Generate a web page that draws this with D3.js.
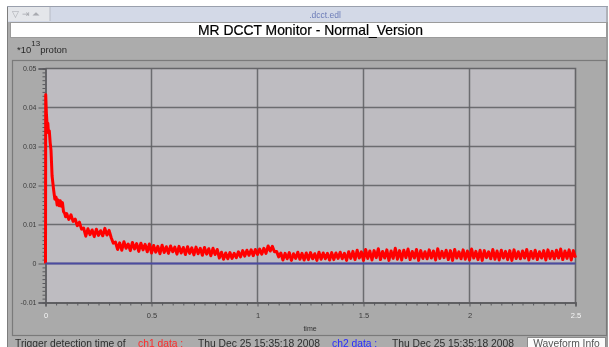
<!DOCTYPE html>
<html>
<head>
<meta charset="utf-8">
<script src="https://cdn.jsdelivr.net/npm/d3@7/dist/d3.min.js"></script>
<style>
  html, body { margin: 0; padding: 0; background: #ffffff; overflow: hidden; }
  svg { display: block; font-family: "Liberation Sans", Arial, Helvetica, sans-serif; }
</style>
</head>
<body>
<svg id="chart" width="609" height="347"></svg>
<script>
// ---- axis ticks ----
const xTicks = [0, 0.5, 1, 1.5, 2, 2.5];
const xTickLabels = ["0", "0.5", "1", "1.5", "2", "2.5"];
const yTicks = [-0.01, 0, 0.01, 0.02, 0.03, 0.04, 0.05];
const yTickLabels = ["-0.01", "0", "0.01", "0.02", "0.03", "0.04", "0.05"];

// ---- ch1 (red): injection edge, sampled finely ----
const ch1HeadTime = [0, 0.001, 0.004, 0.008, 0.011, 0.014, 0.018, 0.022, 0.026, 0.031, 0.038,
  0.044, 0.050, 0.055, 0.060, 0.065, 0.070, 0.075, 0.080, 0.085, 0.090, 0.095];
const ch1HeadValue = [0, 0.0433, 0.0387, 0.0352, 0.0360, 0.0335, 0.0340, 0.0310, 0.0290, 0.0225, 0.0190,
  0.0165, 0.0170, 0.0150, 0.0163, 0.0148, 0.0161, 0.0147, 0.0156, 0.0133, 0.0129, 0.0120];

// ---- ch1 (red): remainder of the waveform, one sample every 10 ms from 0.10 s ----
const ch1TailStart = 0.10;
const ch1TailStep = 0.01;
const ch1TailValue = [
  0.0128, 0.0113, 0.0125, 0.0108, 0.0114, 0.0097, 0.0106, 0.0088, 0.0091, 0.0070,
  0.0089, 0.0074, 0.0086, 0.0069, 0.0088, 0.0072, 0.0084, 0.0071, 0.0090, 0.0073,
  0.0085, 0.0066, 0.0052, 0.0055, 0.0036, 0.0053, 0.0034, 0.0056, 0.0039, 0.0050,
  0.0033, 0.0054, 0.0037, 0.0051, 0.0031, 0.0052, 0.0035, 0.0049, 0.0030, 0.0050,
  0.0027, 0.0046, 0.0029, 0.0044, 0.0025, 0.0047, 0.0028, 0.0043, 0.0026, 0.0045,
  0.0030, 0.0042, 0.0024, 0.0044, 0.0027, 0.0041, 0.0023, 0.0043, 0.0026, 0.0040,
  0.0022, 0.0042, 0.0025, 0.0039, 0.0021, 0.0041, 0.0024, 0.0038, 0.0020, 0.0039,
  0.0023, 0.0036, 0.0014, 0.0029, 0.0011, 0.0027, 0.0012, 0.0028, 0.0013, 0.0026,
  0.0015, 0.0030, 0.0017, 0.0033, 0.0019, 0.0034, 0.0021, 0.0035, 0.0020, 0.0036,
  0.0023, 0.0037, 0.0024, 0.0039, 0.0026, 0.0045, 0.0032, 0.0044, 0.0030, 0.0031,
  0.0017, 0.0027, 0.0009, 0.0026, 0.0012, 0.0028, 0.0008, 0.0025, 0.0013, 0.0029,
  0.0011, 0.0026, 0.0009, 0.0027, 0.0010, 0.0028, 0.0012, 0.0025, 0.0008, 0.0029,
  0.0011, 0.0027, 0.0012, 0.0026, 0.0009, 0.0028, 0.0010, 0.0027, 0.0013, 0.0029,
  0.0012, 0.0026, 0.0008, 0.0030, 0.0013, 0.0031, 0.0010, 0.0034, 0.0014, 0.0030,
  0.0008, 0.0036, 0.0013, 0.0032, 0.0009, 0.0033, 0.0015, 0.0038, 0.0010, 0.0031,
  0.0014, 0.0035, 0.0008, 0.0032, 0.0013, 0.0039, 0.0011, 0.0033, 0.0009, 0.0034,
  0.0015, 0.0037, 0.0010, 0.0031, 0.0014, 0.0036, 0.0008, 0.0033, 0.0013, 0.0030,
  0.0012, 0.0035, 0.0014, 0.0032, 0.0009, 0.0038, 0.0013, 0.0031, 0.0015, 0.0034,
  0.0010, 0.0033, 0.0008, 0.0036, 0.0014, 0.0030, 0.0012, 0.0035, 0.0011, 0.0032,
  0.0009, 0.0037, 0.0014, 0.0031, 0.0010, 0.0034, 0.0008, 0.0033, 0.0015, 0.0030,
  0.0012, 0.0036, 0.0011, 0.0032, 0.0009, 0.0034, 0.0014, 0.0031, 0.0010, 0.0033,
  0.0008, 0.0035, 0.0013, 0.0030, 0.0012, 0.0032, 0.0014, 0.0036, 0.0009, 0.0031,
  0.0013, 0.0034, 0.0010, 0.0030, 0.0014, 0.0033, 0.0009, 0.0035, 0.0013, 0.0031,
  0.0012, 0.0034, 0.0014, 0.0037, 0.0010, 0.0032, 0.0013, 0.0035, 0.0009, 0.0033,
  0.0015
];

// ---- ch2 (blue) ----
const ch2Time = [0, 2.5];
const ch2Value = [0, 0];

// ---- status line ----
const ch1Stamp = "Thu Dec 25 15:35:18 2008";
const ch2Stamp = "Thu Dec 25 15:35:18 2008";

const ch1 = ch1HeadTime.map((t, i) => ({ t, v: ch1HeadValue[i] }))
  .concat(ch1TailValue.map((v, i) => ({ t: ch1TailStart + i * ch1TailStep, v })));
const ch2 = ch2Time.map((t, i) => ({ t, v: ch2Value[i] }));

const svg = d3.select("#chart");

const defs = svg.append("defs");
defs.append("filter").attr("id", "soft")
  .attr("x", "-5%").attr("y", "-5%").attr("width", "110%").attr("height", "110%")
  .append("feGaussianBlur").attr("stdDeviation", 0.7);

const root = svg.append("g").attr("filter", "url(#soft)");

// ---- window chrome ----
root.append("rect").attr("x", 7).attr("y", 6).attr("width", 601).attr("height", 345).attr("fill", "#acacac");
root.append("rect").attr("x", 7).attr("y", 6).attr("width", 601).attr("height", 16).attr("fill", "#d3d9e7");
root.append("rect").attr("x", 8).attr("y", 7).attr("width", 42).attr("height", 14).attr("fill", "#e4e6ea");
root.append("line").attr("x1", 50).attr("x2", 50).attr("y1", 7).attr("y2", 21).attr("stroke", "#b8bcc6");
root.append("text").attr("x", 12).attr("y", 17).attr("font-size", 9).attr("fill", "#a8aab0").text("▽ ⇥ ⏶");
root.append("text").attr("x", 325).attr("y", 17.5).attr("text-anchor", "middle")
  .attr("font-size", 8.5).attr("fill", "#6c7cb8").text(".dcct.edl");
root.append("line").attr("x1", 7.5).attr("x2", 7.5).attr("y1", 6).attr("y2", 347).attr("stroke", "#7d7d7d");
root.append("line").attr("x1", 607).attr("x2", 607).attr("y1", 6).attr("y2", 347).attr("stroke", "#8a8a8a");
root.append("line").attr("x1", 7).attr("x2", 608).attr("y1", 6.5).attr("y2", 6.5).attr("stroke", "#9aa0ad");

// title box
root.append("rect").attr("x", 10.5).attr("y", 22.5).attr("width", 596).attr("height", 15)
  .attr("fill", "#fefefe").attr("stroke", "#9a9a9a");
root.append("text").attr("x", 310.5).attr("y", 34.5).attr("text-anchor", "middle")
  .attr("font-size", 13.9).attr("fill", "#000").attr("stroke", "#000").attr("stroke-width", 0.2)
  .text("MR DCCT Monitor - Normal_Version");

// unit label
const unit = root.append("text").attr("x", 17).attr("y", 52.5).attr("font-size", 9.5).attr("fill", "#2a2a2a");
unit.append("tspan").text("*10");
unit.append("tspan").attr("font-size", 8).attr("dy", -7).text("13");
unit.append("tspan").attr("dy", 7).text("proton");

// plot frame
root.append("rect").attr("x", 12.5).attr("y", 60.5).attr("width", 594).attr("height", 275)
  .attr("fill", "#aaaaaa").attr("stroke", "#7a7a7a").attr("stroke-width", 1.2);

// ---- scales ----
const plot = { left: 45.5, right: 575.5, top: 68.5, bottom: 302.5 };
const x = d3.scaleLinear().domain([0, 2.5]).range([plot.left, plot.right]);
const y = d3.scaleLinear().domain([-0.01, 0.05]).range([plot.bottom, plot.top]);

root.append("rect").attr("x", plot.left).attr("y", plot.top)
  .attr("width", plot.right - plot.left).attr("height", plot.bottom - plot.top)
  .attr("fill", "#bebcc1");

// grid
const grid = root.append("g").attr("stroke", "#5e5e62").attr("stroke-width", 1.5).attr("stroke-opacity", 0.85);
grid.selectAll(".gx").data(xTicks.slice(1, -1)).join("line")
  .attr("x1", d => x(d)).attr("x2", d => x(d)).attr("y1", plot.top).attr("y2", plot.bottom);
grid.selectAll(".gy").data(yTicks.slice(1, -1)).join("line")
  .attr("x1", plot.left).attr("x2", plot.right).attr("y1", d => y(d)).attr("y2", d => y(d));

// border: top and right
root.append("path")
  .attr("d", `M${plot.left},${plot.top}H${plot.right}V${plot.bottom}`)
  .attr("fill", "none").attr("stroke", "#656568").attr("stroke-width", 1.6);

// ---- axes ----
const yMinor = d3.range(-10, 51).map(k => k / 1000).filter(v => Math.abs(v * 100 - Math.round(v * 100)) > 1e-9);
const yAxisMinor = d3.axisLeft(y).tickValues(yMinor).tickSize(3).tickFormat("");
const yAxis = d3.axisLeft(y).tickValues(yTicks).tickSize(7).tickPadding(2)
  .tickFormat((d, i) => yTickLabels[i]);

const gyMinor = root.append("g").attr("transform", `translate(${plot.left},0)`).call(yAxisMinor);
const gy = root.append("g").attr("transform", `translate(${plot.left},0)`).call(yAxis);

const xMinor = d3.range(0, 51).map(k => k * 0.05).filter(v => Math.abs(v * 2 - Math.round(v * 2)) > 1e-9);
const xAxisMinor = d3.axisBottom(x).tickValues(xMinor).tickSize(3).tickFormat("");
const xAxis = d3.axisBottom(x).tickValues(xTicks).tickSize(4).tickPadding(6)
  .tickFormat((d, i) => xTickLabels[i]);

const gxMinor = root.append("g").attr("transform", `translate(0,${plot.bottom})`).call(xAxisMinor);
const gx = root.append("g").attr("transform", `translate(0,${plot.bottom})`).call(xAxis);

[gy, gyMinor, gx, gxMinor].forEach(g => {
  g.select(".domain").attr("stroke", "#5a5a5e").attr("stroke-width", 1.3);
  g.selectAll(".tick line").attr("stroke", "#5a5a5e").attr("stroke-width", 1);
  g.selectAll(".tick text").attr("font-family", "Liberation Sans, Arial, sans-serif")
    .attr("font-size", 7).attr("fill", "#3c3c3c");
});
gx.selectAll(".tick text").attr("font-size", 7.5)
  .attr("fill", (d, i) => (i === 0 || i === xTicks.length - 1) ? "#f6f6f6" : "#3c3c3c");

root.append("text").attr("x", 310).attr("y", 331).attr("text-anchor", "middle")
  .attr("font-size", 7).attr("fill", "#333").text("time");

// ---- waveforms ----
const line = d3.line().x(d => x(d.t)).y(d => y(d.v));

root.append("path").datum(ch1).attr("d", line)
  .attr("fill", "none").attr("stroke", "#ff0000").attr("stroke-width", 3)
  .attr("stroke-linejoin", "round");

root.append("path").datum(ch2).attr("d", line)
  .attr("fill", "none").attr("stroke", "#4c4ca0").attr("stroke-width", 2);

// ---- status line ----
const statusParts = [
  { x: 15, text: "Trigger detection time of", fill: "#2e2e2e" },
  { x: 138, text: "ch1 data :", fill: "#ff2a2a" },
  { x: 198, text: ch1Stamp, fill: "#2e2e2e" },
  { x: 332, text: "ch2 data :", fill: "#2a2aff" },
  { x: 392, text: ch2Stamp, fill: "#2e2e2e" }
];
root.selectAll(".status").data(statusParts).join("text")
  .attr("x", d => d.x).attr("y", 346.5).attr("font-size", 10.3).attr("fill", d => d.fill)
  .text(d => d.text);

root.append("rect").attr("x", 527.5).attr("y", 337.5).attr("width", 78).attr("height", 14)
  .attr("fill", "#fbfbfb").attr("stroke", "#8a8a8a");
root.append("text").attr("x", 566.5).attr("y", 346.5).attr("text-anchor", "middle")
  .attr("font-size", 10.3).attr("fill", "#555").text("Waveform Info");
</script>
</body>
</html>
